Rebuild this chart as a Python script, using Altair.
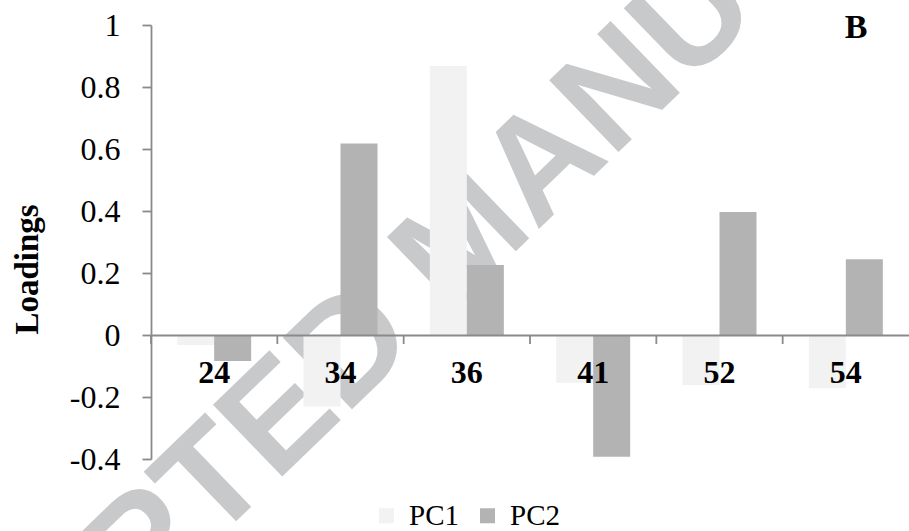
import altair as alt
import pandas as pd

# Loadings of each peak on the first two principal components
categories = ["24", "34", "36", "41", "52", "54"]
pc1 = [-0.032, -0.231, 0.868, -0.154, -0.161, -0.172]
pc2 = [-0.084, 0.618, 0.226, -0.393, 0.397, 0.244]
series_names = ["PC1", "PC2"]
series_colors = ["#f2f2f2", "#b3b3b3"]
y_ticks = [-0.4, -0.2, 0, 0.2, 0.4, 0.6, 0.8, 1]
panel_label = ["B"]
stamp_text = ["ACCEPTED MANUSCRIPT"]

rows = []
for peak, a, b in zip(categories, pc1, pc2):
    rows.append({"peak": peak, "component": "PC1", "loading": a})
    rows.append({"peak": peak, "component": "PC2", "loading": b})
df = pd.DataFrame(rows)

W, H = 758, 434
SERIF = "Liberation Serif"
AXIS_GRAY = "#8a8a8a"
Y_DOMAIN = [-0.4, 1.0]
# distance of the zero line above the bottom of the plot
zero_from_bottom = H * (0 - Y_DOMAIN[0]) / (Y_DOMAIN[1] - Y_DOMAIN[0])
zero_from_top = H - zero_from_bottom
TICK_LEN = 9

x_axis = alt.Axis(
    title=None,
    offset=-zero_from_bottom,
    ticks=False,
    labelAngle=0,
    labelFont=SERIF,
    labelFontSize=32,
    labelFontWeight="bold",
    labelColor="black",
    labelPadding=22,
    domainColor=AXIS_GRAY,
    domainWidth=1.8,
    zindex=1,
)
x_scale = alt.Scale(paddingInner=0, paddingOuter=0)

stamp = alt.Chart(pd.DataFrame({"t": stamp_text})).mark_text(
    font="Liberation Sans",
    fontWeight="bold",
    fontSize=145,
    color="#c8c9cb",
    angle=316,
    align="center",
    baseline="middle",
).encode(text="t:N", x=alt.value(314), y=alt.value(214))

bars = alt.Chart(df).mark_bar().encode(
    x=alt.X("peak:N", sort=categories, scale=x_scale, axis=x_axis),
    xOffset=alt.XOffset(
        "component:N",
        sort=series_names,
        scale=alt.Scale(paddingInner=0, paddingOuter=0.707),
    ),
    y=alt.Y(
        "loading:Q",
        scale=alt.Scale(domain=Y_DOMAIN, nice=False, zero=False),
        axis=alt.Axis(
            values=y_ticks,
            labelExpr="'' + datum.value",
            grid=False,
            title="Loadings",
            titleFont=SERIF,
            titleFontSize=33,
            titleFontWeight="bold",
            titleColor="black",
            titleAngle=270,
            titleAlign="center",
            titleBaseline="middle",
            titleX=-124,
            titleY=244,
            labelFont=SERIF,
            labelFontSize=32,
            labelColor="black",
            labelPadding=22,
            tickSize=TICK_LEN,
            tickColor=AXIS_GRAY,
            tickWidth=1.8,
            domainColor=AXIS_GRAY,
            domainWidth=1.8,
        ),
    ),
    color=alt.Color(
        "component:N",
        scale=alt.Scale(domain=series_names, range=series_colors),
        legend=alt.Legend(
            title=None,
            orient="none",
            direction="horizontal",
            legendX=221,
            legendY=476,
            symbolType="square",
            symbolSize=225,
            symbolStrokeWidth=0,
            labelFont=SERIF,
            labelFontSize=29,
            labelColor="black",
            labelOffset=8,
            columnPadding=14,
        ),
    ),
)

# category separator ticks hanging below the zero line, at each band's left edge
category_ticks = alt.Chart(pd.DataFrame({"peak": categories})).mark_rule(
    color=AXIS_GRAY, strokeWidth=1.8
).encode(
    x=alt.X("peak:N", sort=categories, scale=x_scale, axis=x_axis, bandPosition=0),
    y=alt.value(zero_from_top),
    y2=alt.value(zero_from_top + TICK_LEN),
)

label = alt.Chart(pd.DataFrame({"t": panel_label})).mark_text(
    font=SERIF,
    fontWeight="bold",
    fontSize=34,
    color="black",
    align="center",
    baseline="middle",
).encode(text="t:N", x=alt.value(705), y=alt.value(3))

chart = alt.layer(stamp, bars, category_ticks, label).properties(
    width=W,
    height=H,
    autosize=alt.AutoSizeParams(type="none"),
    padding={"left": 151, "top": 25, "right": 0, "bottom": 72},
    background="white",
).configure_view(stroke=None)

chart.save("out.html", embed_options={"renderer": "svg", "actions": False})
